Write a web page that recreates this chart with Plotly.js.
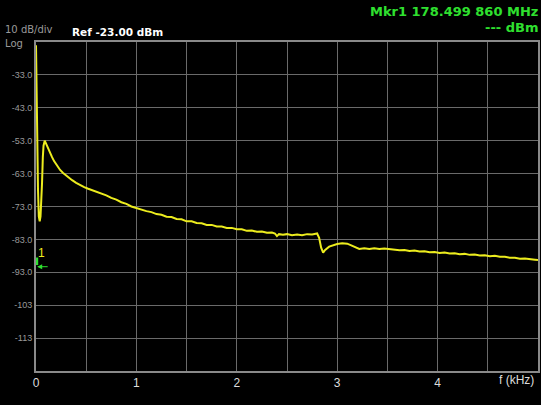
<!DOCTYPE html>
<html>
<head>
<meta charset="utf-8">
<script src="https://cdn.plot.ly/plotly-3.0.1.min.js"></script>
<style>html,body{margin:0;padding:0;background:#000;}#chart{width:541px;height:405px;}</style>
</head>
<body>
<div id="chart"></div>
<script>
// Frequency (kHz) and level (dBm)
const freqKHz = [0, 0.005, 0.01, 0.015, 0.02, 0.028, 0.037, 0.045, 0.052, 0.06, 0.068, 0.075, 0.087,
  0.10, 0.12, 0.14, 0.16, 0.18, 0.20, 0.22, 0.24, 0.27, 0.30, 0.33, 0.36, 0.40, 0.44, 0.48, 0.52, 0.56,
  0.60, 0.65, 0.70, 0.75, 0.80, 0.85, 0.90, 0.95, 1.00, 1.05, 1.10, 1.15, 1.20, 1.25, 1.30, 1.35,
  1.40, 1.45, 1.50, 1.55, 1.60, 1.65, 1.70, 1.75, 1.80, 1.85, 1.90, 1.95, 2.00, 2.05, 2.10, 2.15,
  2.20, 2.25, 2.30, 2.35, 2.38, 2.40, 2.42, 2.46, 2.50, 2.55, 2.60, 2.65, 2.70, 2.75, 2.80, 2.82,
  2.84, 2.86, 2.88, 2.92, 2.96, 3.00, 3.05, 3.10, 3.14, 3.18, 3.22, 3.27, 3.32, 3.37, 3.42, 3.47,
  3.52, 3.57, 3.62, 3.67, 3.72, 3.77, 3.82, 3.87, 3.92, 3.97, 4.02, 4.07, 4.12, 4.17, 4.22, 4.27,
  4.32, 4.37, 4.42, 4.47, 4.52, 4.57, 4.62, 4.67, 4.72, 4.77, 4.82, 4.87, 4.92, 4.97, 5.00];
const levelDBm = [-24, -35, -55, -58, -68, -76, -77.5, -76, -72, -66, -58, -54.5, -53,
  -54.0, -55.4, -56.8, -58.0, -59.2, -60.2, -61.0, -61.9, -62.8, -63.6, -64.3, -65.0, -65.8, -66.5, -67.1, -67.6, -68.0,
  -68.4, -69.1, -69.6, -70.4, -70.9, -71.7, -72.2, -73.0, -73.5, -73.8, -74.4, -74.7, -75.3, -75.5, -76.1, -76.2,
  -76.8, -76.9, -77.5, -77.5, -78.0, -78.1, -78.6, -78.6, -79.1, -79.1, -79.5, -79.5, -79.9, -79.9, -80.4, -80.3,
  -80.7, -80.6, -81.0, -80.9, -81.2, -82.0, -81.4, -81.6, -81.4, -81.7, -81.5, -81.7, -81.4, -81.5, -81.2, -82.5,
  -85.5, -87.0, -86.2, -85.2, -84.7, -84.4, -84.2, -84.3, -84.8, -85.4, -85.9, -85.7, -85.9, -85.7, -85.9, -85.8,
  -86.0, -86.0, -86.3, -86.2, -86.5, -86.4, -86.7, -86.6, -86.9, -86.8, -87.1, -87.0, -87.3, -87.2, -87.5, -87.4,
  -87.7, -87.6, -87.9, -87.8, -88.1, -88.0, -88.3, -88.3, -88.6, -88.6, -88.9, -88.8, -89.1, -89.2, -89.3];

const xTickVals = [0, 0.5, 1, 1.5, 2, 2.5, 3, 3.5, 4, 4.5, 5];
const xTickText = ["0", "", "1", "", "2", "", "3", "", "4", "", ""];
const yTickVals = [-33, -43, -53, -63, -73, -83, -93, -103, -113];
const yTickText = ["-33.0", "-43.0", "-53.0", "-63.0", "-73.0", "-83.0", "-93.0", "-103", "-113"];

const green = "#2fe02f";
const yellow = "#ecec1e";
const data = [{
  x: freqKHz, y: levelDBm, type: "scatter", mode: "lines",
  line: {color: yellow, width: 2}, hoverinfo: "skip"
}];

const layout = {
  width: 541, height: 405,
  paper_bgcolor: "#000", plot_bgcolor: "#000",
  margin: {l: 36, r: 3, t: 42, b: 34},
  showlegend: false,
  font: {family: "Liberation Sans, Arial, sans-serif"},
  xaxis: {
    range: [0, 5], tickvals: xTickVals, ticktext: xTickText,
    showgrid: true, gridcolor: "#6a6a6a", gridwidth: 1,
    showline: true, linecolor: "#8a8a8a", linewidth: 2, mirror: true,
    zeroline: false, ticks: "",
    tickfont: {size: 12, color: "#dddddd"}
  },
  yaxis: {
    range: [-123, -23], tickvals: yTickVals, ticktext: yTickText,
    showgrid: true, gridcolor: "#6a6a6a", gridwidth: 1,
    showline: true, linecolor: "#8a8a8a", linewidth: 2, mirror: true,
    zeroline: false, ticks: "",
    tickfont: {size: 9, color: "#9a9a9a", family: "Liberation Sans Narrow, Arial Narrow, sans-serif"}
  },
  annotations: [
    {xref: "paper", yref: "paper", x: -0.066, y: 1.0365, xanchor: "left", yanchor: "middle",
     text: "10 dB/div", showarrow: false, font: {size: 10, color: "#9a9a9a", family: "DejaVu Sans"}},
    {xref: "paper", yref: "paper", x: -0.066, y: 0.9954, xanchor: "left", yanchor: "middle",
     text: "Log", showarrow: false, font: {size: 10, color: "#9a9a9a", family: "DejaVu Sans"}},
    {xref: "paper", yref: "paper", x: 0.068, y: 1.0304, xanchor: "left", yanchor: "middle",
     text: "<b>Ref -23.00 dBm</b>", showarrow: false, font: {size: 10.5, color: "#ffffff", family: "DejaVu Sans"}},
    {xref: "paper", yref: "paper", x: 1.004, y: 1.094, xanchor: "right", yanchor: "middle",
     text: "<b>Mkr1 178.499 860 MHz</b>", showarrow: false, font: {size: 13, color: green, family: "DejaVu Sans"}},
    {xref: "paper", yref: "paper", x: 1.004, y: 1.044, xanchor: "right", yanchor: "middle",
     text: "<b>--- dBm</b>", showarrow: false, font: {size: 13, color: green, family: "DejaVu Sans"}},
    {xref: "paper", yref: "paper", x: 0.958, y: -0.027, xanchor: "center", yanchor: "middle",
     text: "f (kHz)", showarrow: false, font: {size: 12, color: "#dddddd"}},
    {xref: "x", yref: "y", x: 0.057, y: -87.1, xanchor: "center", yanchor: "middle",
     text: "1", showarrow: false, font: {size: 12, color: yellow}},
    {xref: "x", yref: "y", x: 0.012, y: -91.3, ax: 12, ay: 0, text: "",
     showarrow: true, arrowhead: 2, arrowsize: 1, arrowwidth: 1, arrowcolor: green}
  ],
  shapes: [
    {type: "line", xref: "x", yref: "y", x0: 0.007, x1: 0.007, y0: -88.5, y1: -90.8,
     line: {color: green, width: 3}}
  ]
};

Plotly.newPlot("chart", data, layout, {staticPlot: true, displayModeBar: false});
</script>
</body>
</html>
